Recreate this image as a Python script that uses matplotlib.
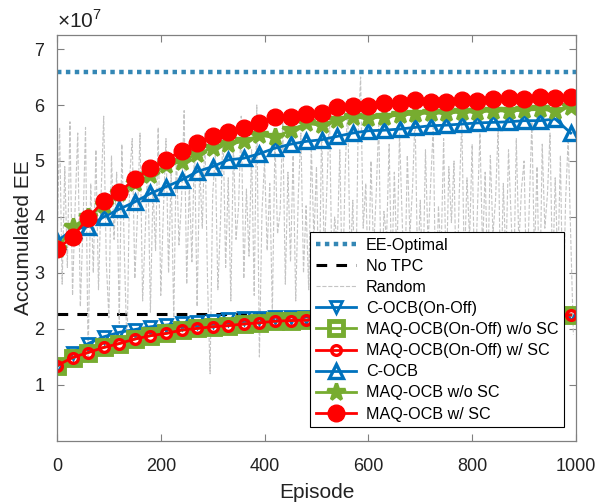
import numpy as np
import matplotlib
matplotlib.use("Agg")
import matplotlib.pyplot as plt

plt.rcParams['font.family'] = ['Liberation Sans', 'DejaVu Sans']
plt.rcParams['mathtext.fontset'] = 'custom'
plt.rcParams['mathtext.rm'] = 'Liberation Sans'

# ---------------- data (units of 1e7) ----------------
episodes = np.arange(0, 1000, 30)          # 34 marker points
ee_optimal = 6.59
no_tpc = 2.27

c_ocb_onoff = [1.33, 1.58, 1.74, 1.86, 1.94, 1.99, 2.04, 2.07, 2.10, 2.13, 2.15, 2.17,
               2.19, 2.20, 2.21, 2.22, 2.22, 2.23, 2.23, 2.24, 2.24, 2.24, 2.25, 2.25,
               2.25, 2.25, 2.26, 2.26, 2.26, 2.26, 2.26, 2.26, 2.26, 2.25]
maq_onoff_wo = [1.345, 1.49, 1.58, 1.67, 1.74, 1.82, 1.88, 1.92, 1.98, 2.01, 2.04, 2.06,
                2.09, 2.11, 2.14, 2.15, 2.16, 2.17, 2.18, 2.19, 2.19, 2.20, 2.21, 2.21,
                2.22, 2.22, 2.23, 2.23, 2.23, 2.24, 2.24, 2.24, 2.25, 2.25]
maq_onoff_w = [1.345, 1.49, 1.58, 1.67, 1.74, 1.82, 1.88, 1.92, 1.98, 2.01, 2.04, 2.06,
               2.09, 2.11, 2.14, 2.15, 2.16, 2.17, 2.18, 2.19, 2.19, 2.20, 2.21, 2.21,
               2.22, 2.22, 2.23, 2.23, 2.23, 2.24, 2.24, 2.24, 2.25, 2.25]
c_ocb = [3.57, 3.77, 3.83, 4.00, 4.14, 4.27, 4.42, 4.54, 4.66, 4.81, 4.90, 5.02,
         5.05, 5.13, 5.23, 5.30, 5.35, 5.38, 5.44, 5.50, 5.54, 5.55, 5.57, 5.60,
         5.63, 5.64, 5.66, 5.68, 5.69, 5.70, 5.72, 5.72, 5.75, 5.50]
maq_wo = [3.42, 3.82, 4.00, 4.21, 4.43, 4.60, 4.75, 4.92, 4.99, 5.13, 5.23, 5.30,
          5.35, 5.46, 5.42, 5.55, 5.67, 5.64, 5.73, 5.79, 5.76, 5.79, 5.82, 5.84,
          5.86, 5.85, 5.88, 5.87, 5.90, 5.89, 5.91, 5.92, 5.90, 5.96]
maq_w = [3.42, 3.65, 3.98, 4.29, 4.45, 4.67, 4.87, 5.02, 5.18, 5.32, 5.45, 5.51,
         5.59, 5.67, 5.79, 5.78, 5.84, 5.86, 5.96, 5.98, 5.98, 6.03, 6.03, 6.09,
         6.05, 6.05, 6.09, 6.08, 6.11, 6.13, 6.11, 6.15, 6.12, 6.15]

random_ep = np.arange(0, 1000, 5)
random_vals = [
    3.4, 5.6, 2.8, 4.9, 3.1, 5.7, 2.6, 4.2, 5.5, 2.4, 3.8, 5.6, 1.4, 4.6, 3.0, 5.2, 2.7, 4.4, 5.8, 3.2,
    2.2, 5.1, 3.6, 4.8, 2.1, 5.3, 3.3, 1.6, 4.7, 5.4, 2.9, 4.0, 5.5, 2.5, 3.7, 5.0, 2.3, 4.5, 3.4, 5.6,
    2.6, 4.1, 5.4, 3.0, 4.8, 2.2, 5.2, 3.5, 4.3, 5.9, 2.8, 4.6, 3.2, 5.3, 2.4, 4.9, 3.8, 5.5, 2.9, 1.2,
    4.4, 5.1, 2.7, 3.9, 5.6, 3.1, 4.7, 2.5, 5.3, 3.6, 4.2, 5.8, 2.9, 4.5, 3.3, 5.2, 2.6, 6.0, 1.5, 4.1,
    5.0, 3.4, 4.6, 2.3, 5.4, 3.7, 4.1, 5.7, 2.8, 4.8, 3.2, 5.1, 2.5, 4.4, 5.5, 3.0, 4.2, 2.7, 5.3, 3.6,
    4.9, 2.4, 5.6, 3.3, 4.5, 5.9, 2.9, 4.0, 3.5, 5.2, 2.6, 4.7, 6.1, 3.1, 4.3, 2.2, 5.4, 6.5, 3.8, 4.6,
    2.8, 5.0, 3.4, 4.4, 5.7, 2.5, 4.1, 3.6, 5.3, 2.9, 4.8, 3.2, 5.5, 4.0, 2.6, 5.1, 3.7, 4.5, 5.8, 3.0,
    4.3, 2.7, 5.2, 3.5, 4.6, 5.6, 2.4, 4.2, 3.3, 5.4, 2.8, 4.9, 3.9, 5.0, 2.3, 4.4, 5.7, 3.1, 4.7, 3.6,
    5.3, 2.6, 4.1, 5.5, 3.4, 4.8, 2.9, 5.1, 3.7, 4.3, 5.6, 2.5, 4.6, 3.2, 5.2, 4.0, 2.8, 5.4, 3.5, 4.5,
    5.0, 2.7, 4.2, 5.7, 3.3, 4.9, 2.4, 5.3, 3.8, 4.4, 5.5, 2.9, 4.7, 3.1, 5.1, 2.2, 4.3, 5.4, 3.6, 1.9,
]

labels = ['EE-Optimal', 'No TPC', 'Random', 'C-OCB(On-Off)', 'MAQ-OCB(On-Off) w/o SC',
          'MAQ-OCB(On-Off) w/ SC', 'C-OCB', 'MAQ-OCB w/o SC', 'MAQ-OCB w/ SC']

BLUE = '#0072BD'
GREEN = '#77AC30'
RED = '#FF0000'
TEAL = '#3487B5'

fig = plt.figure(figsize=(5.96, 5.03), dpi=100)
ax = fig.add_axes([0.0956, 0.1233, 0.8708, 0.8071])

ax.plot([0, 1000], [ee_optimal, ee_optimal], linestyle=(0, (1, 1)), color=TEAL, lw=3.2, label=labels[0])
ax.plot([0, 1000], [no_tpc, no_tpc], linestyle=(0, (3.5, 3)), color='black', lw=2.2, label=labels[1])
ax.plot(random_ep, random_vals, linestyle='--', color='#c4c4c4', lw=0.8, label=labels[2])

ax.plot(episodes, c_ocb_onoff, '-v', color=BLUE, lw=2, ms=9, mfc='none', mew=2, label=labels[3])
ax.plot(episodes, maq_onoff_wo, '-s', color=GREEN, lw=2, ms=10, mfc='none', mew=3.5, label=labels[4])
ax.plot(episodes, maq_onoff_w, '-o', color=RED, lw=2, ms=7, mfc='none', mew=2.4, label=labels[5])
ax.plot(episodes, c_ocb, '-^', color=BLUE, lw=2, ms=10, mfc='none', mew=2.4, label=labels[6])
ax.plot(episodes, maq_wo, '-*', color=GREEN, lw=2, ms=13, mew=2.4, label=labels[7])
ax.plot(episodes, maq_w, '-o', color=RED, lw=2, ms=12, mfc=RED, label=labels[8])

ax.set_xlim(0, 1000)
ax.set_ylim(0, 7.25)
ax.set_xticks([0, 200, 400, 600, 800, 1000])
ax.set_yticks([1, 2, 3, 4, 5, 6, 7])
ax.tick_params(direction='in', top=True, right=True, length=5, width=0.8,
               colors='#222222', labelsize=13)
ax.tick_params(axis='x', pad=12)
ax.tick_params(axis='y', pad=9)
ax.tick_params(axis='both', color='#808080')
for s in ax.spines.values():
    s.set_color('#808080')
    s.set_linewidth(0.9)

ax.text(0.0, 1.008, r'$\times10^{7}$', transform=ax.transAxes, fontsize=15,
        ha='left', va='bottom', color='#222222')
ax.set_xlabel('Episode', fontsize=15, color='#222222', labelpad=6)
ax.set_ylabel('Accumulated EE', fontsize=15, color='#222222', labelpad=1)

leg = ax.legend(loc='lower right', bbox_to_anchor=(0.977, 0.034), bbox_transform=ax.transAxes,
                borderaxespad=0, fontsize=11.6, handlelength=2.5, labelspacing=0.38,
                fancybox=False, edgecolor='black', framealpha=1, borderpad=0.35,
                handletextpad=0.6)
leg.get_frame().set_linewidth(0.8)

fig.savefig('out.png', dpi=100)
